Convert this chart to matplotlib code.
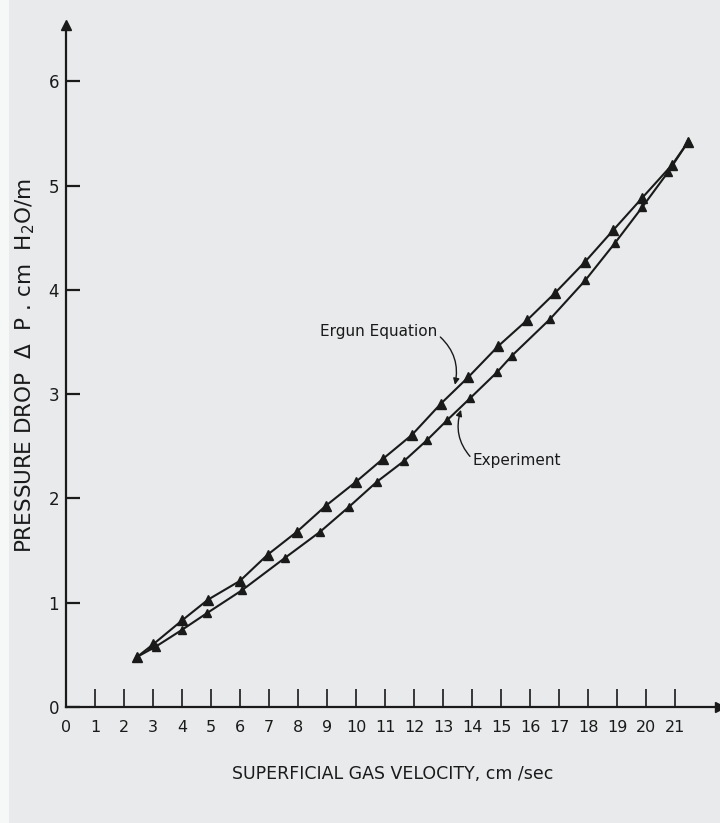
import matplotlib
matplotlib.use("Agg")
import matplotlib.pyplot as plt
from matplotlib.patches import Rectangle

# data
ergun_x = [2.45, 3.0, 4.0, 4.9, 6.0, 6.95, 7.96, 8.96, 10.0, 10.93, 11.93, 12.93,
           13.86, 14.9, 15.9, 16.86, 17.9, 18.86, 19.86, 20.9, 21.45]
ergun_y = [0.48, 0.60, 0.83, 1.03, 1.21, 1.46, 1.68, 1.93, 2.16, 2.38, 2.61, 2.91,
           3.16, 3.46, 3.71, 3.97, 4.27, 4.57, 4.88, 5.20, 5.42]
exp_x = [2.45, 3.1, 4.0, 4.86, 6.07, 7.55, 8.76, 9.76, 10.72, 11.66, 12.45, 13.14,
         13.93, 14.86, 15.38, 16.69, 17.9, 18.93, 19.86, 20.76, 21.45]
exp_y = [0.48, 0.58, 0.74, 0.90, 1.12, 1.43, 1.68, 1.92, 2.16, 2.36, 2.56, 2.75,
         2.96, 3.21, 3.37, 3.72, 4.09, 4.45, 4.79, 5.13, 5.42]
x_ticks = list(range(0, 22))
y_ticks = list(range(0, 7))

font = ['DejaVu Sans']
paper = '#e8eaeb'
ink = '#1a1a1a'

fig = plt.figure(figsize=(7.2, 8.23), dpi=100, facecolor=paper)
fig.patches.append(Rectangle((0, 0), 0.012, 1, transform=fig.transFigure,
                             facecolor='#f6f7f7', edgecolor='none'))
ax = fig.add_axes([66/720, 116/823, 654/720, 682/823])
ax.set_facecolor('none')

ax.plot(ergun_x, ergun_y, '-', color=ink, lw=1.5, marker='^', ms=7.5,
        mfc=ink, mec=ink)
ax.plot(exp_x, exp_y, '-', color=ink, lw=1.5, marker='^', ms=5.5,
        mfc=ink, mec=ink)

ax.set_xlim(0, 22.55)
ax.set_ylim(0, 6.54)
for s in ['top', 'right']:
    ax.spines[s].set_visible(False)
for s in ['left', 'bottom']:
    ax.spines[s].set_linewidth(1.6)
    ax.spines[s].set_color(ink)
# arrow heads at axis ends
ax.plot(1, 0, '>', color=ink, ms=7, transform=ax.transAxes, clip_on=False)
ax.plot(0, 1, '^', color=ink, ms=7, transform=ax.transAxes, clip_on=False)

ax.set_xticks(x_ticks)
ax.set_yticks(y_ticks)
ax.set_xticklabels([str(t) for t in x_ticks], fontfamily=font, fontsize=11.5)
ax.set_yticklabels([str(t) for t in y_ticks], fontfamily=font, fontsize=12)
ax.tick_params(axis='x', direction='in', length=13, width=1.2, pad=9,
               colors=ink)
ax.tick_params(axis='y', direction='in', length=10, width=1.6, pad=5,
               colors=ink)

ax.set_xlabel('SUPERFICIAL GAS VELOCITY, cm /sec', fontfamily=font,
              fontsize=12.5, color=ink, labelpad=22)
ax.set_ylabel('PRESSURE DROP  Δ  P . cm  H$_2$O/m', fontfamily=font,
              fontsize=15.5, color=ink, labelpad=8)

ax.annotate('Ergun Equation', xy=(13.41, 3.09), xytext=(10.79, 3.60),
            fontfamily=font, fontsize=11, color=ink, ha='center', va='center',
            arrowprops=dict(arrowstyle='-|>', color=ink, lw=1.0,
                            mutation_scale=9, relpos=(1, 0.3),
                            connectionstyle='arc3,rad=-0.3',
                            shrinkA=0, shrinkB=0))
ax.annotate('Experiment', xy=(13.62, 2.85), xytext=(15.55, 2.36),
            fontfamily=font, fontsize=11, color=ink, ha='center', va='center',
            arrowprops=dict(arrowstyle='-|>', color=ink, lw=1.0,
                            mutation_scale=9, relpos=(0, 0.6),
                            connectionstyle='arc3,rad=-0.3',
                            shrinkA=0, shrinkB=0))

fig.savefig('out.png', dpi=100, facecolor=paper)
